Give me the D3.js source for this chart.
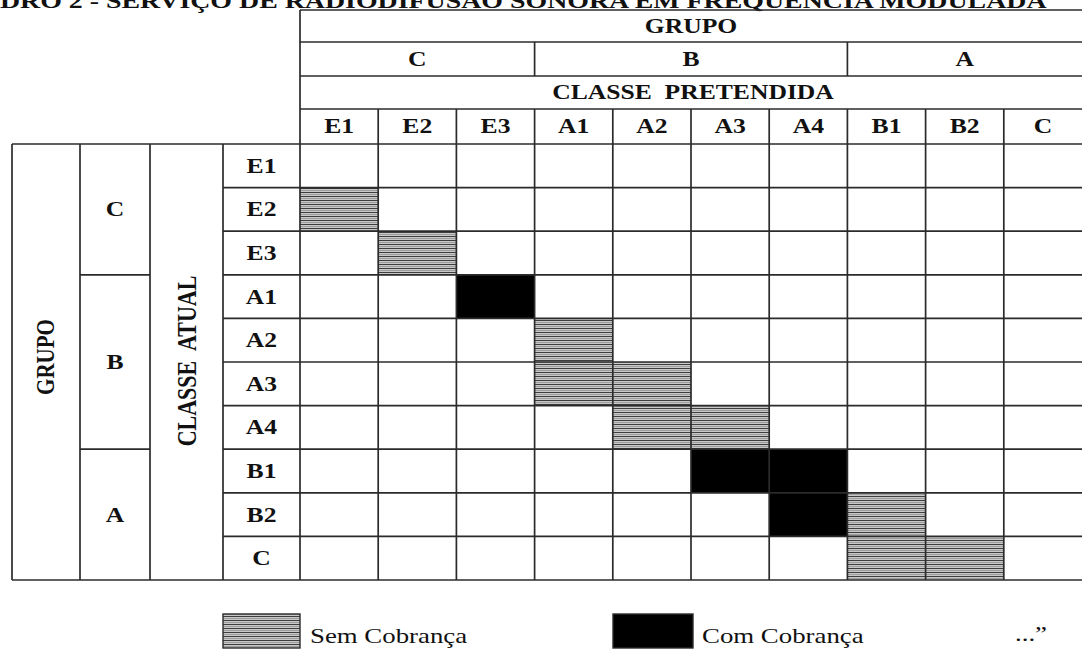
<!DOCTYPE html>
<html>
<head>
<meta charset="utf-8">
<script src="https://cdn.jsdelivr.net/npm/d3@7"></script>
<style>
  html, body { margin: 0; padding: 0; background: #fff; }
  svg { display: block; }
  text { font-family: "Liberation Serif", "Times New Roman", serif; fill: #111; }
</style>
</head>
<body>
<svg id="chart" width="1082" height="651"></svg>
<script>
// ---------------- DATA ----------------
const titleText = "QUADRO 2 - SERVIÇO DE RADIODIFUSÃO SONORA EM FREQUÊNCIA MODULADA";
const hiddenPrefix = "QUA";
const groups = ["C", "B", "A"];
const classes = ["E1", "E2", "E3", "A1", "A2", "A3", "A4", "B1", "B2", "C"];
const classGroup = ["C", "C", "C", "B", "B", "B", "B", "A", "A", "A"];
const topHeader = "GRUPO";
const colHeader = "CLASSE  PRETENDIDA";
const leftHeader = "GRUPO";
const rowHeader = "CLASSE  ATUAL";
// [classe atual, classe pretendida]
const semCobranca = [["E2","E1"],["E3","E2"],["A2","A1"],["A3","A1"],["A3","A2"],
                     ["A4","A2"],["A4","A3"],["B2","B1"],["C","B1"],["C","B2"]];
const comCobranca = [["A1","E3"],["B1","A3"],["B1","A4"],["B2","A4"]];
const legendLabels = ["Sem Cobrança", "Com Cobrança"];
const trailingText = "...”";

// ---------------- LAYOUT ----------------
const svg = d3.select("#chart");
const SX = 1.22;           // horizontal stretch of the scanned original
const FS = 21;             // header font size
const lineColor = "#2b2b2b";
const lw = 1.7;

const x = d3.scaleBand().domain(classes).range([300, 1082]).padding(0);
const y = d3.scaleBand().domain(classes).range([144, 580]).padding(0);

const defs = svg.append("defs");
const pat = defs.append("pattern").attr("id","stripes")
  .attr("patternUnits","userSpaceOnUse").attr("width",8).attr("height",4);
pat.append("rect").attr("width",8).attr("height",4).attr("fill","#c8c8c8");
pat.append("rect").attr("y",0).attr("width",8).attr("height",1).attr("fill","#3e3e3e");
pat.append("rect").attr("y",2).attr("width",8).attr("height",0.7).attr("fill","#8c8c8c");

function label(g, txt, cx, cy, opts = {}) {
  const f = opts.size || FS;
  const t = g.append("text")
    .attr("transform", `translate(${cx},${cy}) scale(${opts.sx || SX},1)` + (opts.rotate ? ` rotate(${opts.rotate})` : ""))
    .attr("x", 0).attr("y", f * 0.33)
    .attr("text-anchor", opts.anchor || "middle")
    .attr("font-size", f)
    .attr("font-weight", opts.weight || "bold")
    .style("white-space", "pre")
    .attr("xml:space", "preserve")
    .text(txt);
  return t;
}

// ---------------- TITLE ----------------
const tg = svg.append("g");
const tmp = tg.append("text").attr("font-size", 21).attr("font-weight","bold").text(titleText);
const wFull = tmp.node().getComputedTextLength();
tmp.text(hiddenPrefix);
const wPre = tmp.node().getComputedTextLength();
tmp.remove();
const tsx = 1047 / (wFull - wPre);
tg.append("text")
  .attr("transform", `translate(${-wPre * tsx},8) scale(${tsx},1)`)
  .attr("font-size", 21).attr("font-weight","bold")
  .text(titleText);

// ---------------- CELLS ----------------
const cells = svg.append("g");
cells.selectAll("rect.sem").data(semCobranca).join("rect").attr("class","sem")
  .attr("x", d => x(d[1])).attr("y", d => y(d[0]))
  .attr("width", x.bandwidth()).attr("height", y.bandwidth())
  .attr("fill", "url(#stripes)");
cells.selectAll("rect.com").data(comCobranca).join("rect").attr("class","com")
  .attr("x", d => x(d[1])).attr("y", d => y(d[0]))
  .attr("width", x.bandwidth()).attr("height", y.bandwidth())
  .attr("fill", "#000");

// ---------------- GRID ----------------
const grid = svg.append("g").attr("stroke", lineColor).attr("stroke-width", lw).attr("fill","none");
function hl(x1, x2, yy) { grid.append("line").attr("x1",x1).attr("x2",x2).attr("y1",yy).attr("y2",yy); }
function vl(xx, y1, y2) { grid.append("line").attr("x1",xx).attr("x2",xx).attr("y1",y1).attr("y2",y2); }

const xEnd = x.range()[1];
[10, 42, 76, 109].forEach(v => hl(300, xEnd, v));
hl(12, xEnd, y.range()[0]);
hl(12, xEnd, y.range()[1]);
vl(300, 10, y.range()[1]);
const groupSpans = groups.map(g => {
  const cs = classes.filter((c, i) => classGroup[i] === g);
  return {g, cs, x0: x(cs[0]), x1: x(cs[cs.length-1]) + x.bandwidth(),
          y0: y(cs[0]), y1: y(cs[cs.length-1]) + y.bandwidth()};
});
groupSpans.slice(1).forEach(s => vl(s.x0, 42, 76));
classes.slice(1).forEach(c => vl(x(c), 109, y.range()[1]));
classes.slice(1).forEach(c => hl(223, xEnd, y(c)));
[12, 80, 150, 223].forEach(v => vl(v, y.range()[0], y.range()[1]));
groupSpans.slice(1).forEach(s => hl(80, 150, s.y0));

// ---------------- TEXT ----------------
const tx = svg.append("g");
label(tx, topHeader, (300 + xEnd) / 2, 26);
groupSpans.forEach(s => label(tx, s.g, (s.x0 + s.x1) / 2, 59));
label(tx, colHeader, (300 + xEnd) / 2 + 2, 92.5);
classes.forEach(c => label(tx, c, x(c) + x.bandwidth() / 2, 126.5));
classes.forEach(c => label(tx, c, 261.5, y(c) + y.bandwidth() / 2));
groupSpans.forEach(s => label(tx, s.g, 115, (s.y0 + s.y1) / 2));
label(tx, leftHeader, 46, 357, {rotate: -90});
label(tx, rowHeader, 187, 361, {rotate: -90, size: 22});

// ---------------- LEGEND ----------------
const lg = svg.append("g");
const legendFills = ["url(#stripes)", "#000"];
const legendX = [223, 613];
legendLabels.forEach((lab, i) => {
  lg.append("rect").attr("x", legendX[i]).attr("y", 614)
    .attr("width", i === 0 ? 77 : 80).attr("height", 34)
    .attr("fill", legendFills[i]).attr("stroke", lineColor).attr("stroke-width", 1.4);
  label(lg, lab, legendX[i] + (i === 0 ? 87 : 89), 636, {anchor: "start", weight: "normal", size: 22});
});
label(lg, trailingText, 1015, 634, {anchor: "start", weight: "normal", size: 22});
</script>
</body>
</html>
